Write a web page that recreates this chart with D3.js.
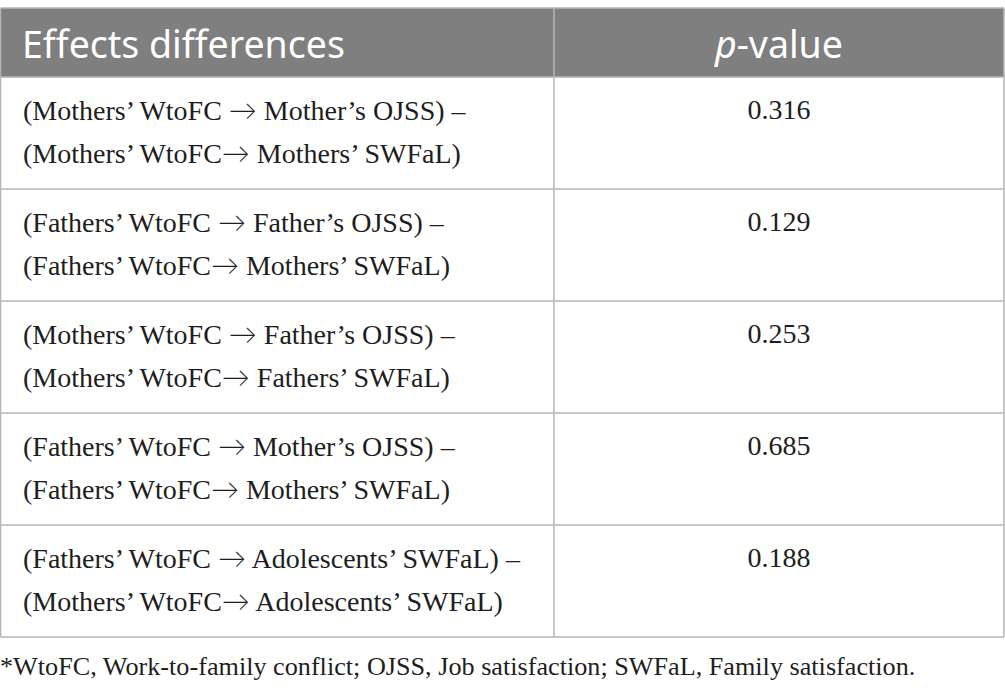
<!DOCTYPE html>
<html>
<head>
<meta charset="utf-8">
<script src="https://cdn.jsdelivr.net/npm/d3@7"></script>
<style>
html,body{margin:0;padding:0;background:#fff;}
svg{display:block;}
</style>
</head>
<body>
<svg id="chart" width="1005" height="696"></svg>
<script>
const headers = ["Effects differences", "p-value"];
const effectsLine1 = [
  "(Mothers\u2019 WtoFC \u2192 Mother\u2019s OJSS) \u2013",
  "(Fathers\u2019 WtoFC \u2192 Father\u2019s OJSS) \u2013",
  "(Mothers\u2019 WtoFC \u2192 Father\u2019s OJSS) \u2013",
  "(Fathers\u2019 WtoFC \u2192 Mother\u2019s OJSS) \u2013",
  "(Fathers\u2019 WtoFC \u2192 Adolescents\u2019 SWFaL) \u2013"
];
const effectsLine2 = [
  "(Mothers\u2019 WtoFC\u2192 Mothers\u2019 SWFaL)",
  "(Fathers\u2019 WtoFC\u2192 Mothers\u2019 SWFaL)",
  "(Mothers\u2019 WtoFC\u2192 Fathers\u2019 SWFaL)",
  "(Fathers\u2019 WtoFC\u2192 Mothers\u2019 SWFaL)",
  "(Mothers\u2019 WtoFC\u2192 Adolescents\u2019 SWFaL)"
];
const pValues = ["0.316", "0.129", "0.253", "0.685", "0.188"];
const footnote = "*WtoFC, Work-to-family conflict; OJSS, Job satisfaction; SWFaL, Family satisfaction.";

const svg = d3.select("#chart");
const tableLeft = 0.5, tableRight = 1004, divX = 554;
const headTop = 8, headBottom = 77, tableBottom = 637;
const border = "#b4b4b4";
const ink = "#1e1e1e";
const serif = "'Liberation Serif', 'DejaVu Serif', serif";
const sans = "'Noto Sans', 'Open Sans', sans-serif";
const arrowFont = "Lato, 'DejaVu Sans', sans-serif";

const y = d3.scaleBand().domain(d3.range(pValues.length)).range([headBottom, tableBottom]);

// header background
svg.append("rect").attr("x", tableLeft).attr("y", headTop)
  .attr("width", tableRight - tableLeft).attr("height", headBottom - headTop)
  .attr("fill", "#7f7f7f");

// header texts
svg.append("text").attr("x", 22).attr("y", 58)
  .attr("font-family", sans).attr("font-size", 37.5).attr("fill", "#fff")
  .text(headers[0]);
const pv = svg.append("text").attr("x", (divX + tableRight) / 2).attr("y", 58)
  .attr("text-anchor", "middle")
  .attr("font-family", sans).attr("font-size", 37.5).attr("fill", "#fff");
pv.append("tspan").attr("font-style", "italic").text("p");
pv.append("tspan").text(headers[1].slice(1));

// body rows
const rows = svg.selectAll("g.row").data(pValues).join("g").attr("class", "row")
  .attr("transform", (d, i) => `translate(0,${y(i)})`);

function writeLine(sel, str) {
  const parts = str.split("\u2192");
  sel.append("tspan").text(parts[0]);
  sel.append("tspan").attr("font-family", arrowFont).attr("font-weight", 300)
    .attr("font-size", 28).text("\u2192");
  sel.append("tspan").text(parts[1]);
}

rows.append("text").attr("x", 23).attr("y", 43)
  .attr("font-family", serif).attr("font-size", 28).attr("fill", ink)
  .each(function(d, i) { writeLine(d3.select(this), effectsLine1[i]); });
rows.append("text").attr("x", 23).attr("y", 86)
  .attr("font-family", serif).attr("font-size", 28).attr("fill", ink)
  .each(function(d, i) { writeLine(d3.select(this), effectsLine2[i]); });
rows.append("text").attr("x", (divX + tableRight) / 2).attr("y", 42)
  .attr("text-anchor", "middle")
  .attr("font-family", serif).attr("font-size", 28).attr("fill", ink)
  .text(d => d);

// horizontal lines
const hLines = [headTop].concat(d3.range(pValues.length).map(i => y(i))).concat([tableBottom]);
svg.selectAll("line.h").data(hLines).join("line").attr("class", "h")
  .attr("x1", tableLeft).attr("x2", tableRight)
  .attr("y1", d => d).attr("y2", d => d)
  .attr("stroke", border).attr("stroke-width", 1.5);

// vertical lines
svg.selectAll("line.v").data([tableLeft, divX, tableRight]).join("line").attr("class", "v")
  .attr("x1", d => d).attr("x2", d => d)
  .attr("y1", headTop).attr("y2", tableBottom)
  .attr("stroke", border).attr("stroke-width", 1.5);

// footnote
svg.append("text").attr("x", 0).attr("y", 675)
  .attr("font-family", serif).attr("font-size", 26.2).attr("fill", ink)
  .text(footnote);
</script>
</body>
</html>
